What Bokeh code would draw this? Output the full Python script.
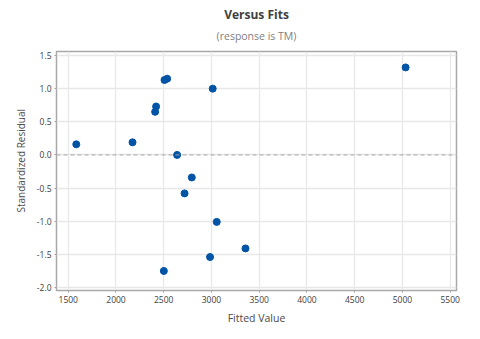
from bokeh.plotting import figure
from bokeh.models import (Span, Title, Range1d, FixedTicker, CustomJSTickFormatter,
                          LinearAxis)
from bokeh.embed import file_html
from bokeh.resources import INLINE

fits = [1584, 2173, 2410, 2420, 2508, 2536, 2640, 2794, 3013, 2718, 3055, 2985, 2501, 3356, 5033]
resid = [0.16, 0.19, 0.65, 0.73, 1.13, 1.15, 0.00, -0.34, 1.00, -0.58, -1.01, -1.54, -1.75, -1.41, 1.32]
x_ticks = [1500, 2000, 2500, 3000, 3500, 4000, 4500, 5000, 5500]
y_ticks = [-2.0, -1.5, -1.0, -0.5, 0.0, 0.5, 1.0, 1.5]

FONT = "Open Sans"
p = figure(frame_width=400, frame_height=239, output_backend="svg", toolbar_location=None,
           x_range=Range1d(1377, 5566), y_range=Range1d(-2.045, 1.56),
           min_border_left=56, min_border_right=22, min_border_top=51, min_border_bottom=48,
           border_fill_color="white")
p.styles = {"outline": "1.5px solid #e2e2e2", "outline-offset": "-2px"}

xaxis = p.below[0]
yaxis = p.left[0]

# subtitle as a label-only axis above the frame
sub_axis = LinearAxis(ticker=FixedTicker(ticks=[]), axis_label="(response is TM)",
                      axis_line_color=None, major_tick_line_color=None,
                      minor_tick_line_color=None, axis_label_standoff=9,
                      major_label_text_font_size="0px",
                      axis_label_text_font=FONT, axis_label_text_font_size="10.5px",
                      axis_label_text_font_style="normal", axis_label_text_color="#808080")
p.add_layout(sub_axis, "above")
p.add_layout(Title(text="Versus Fits", align="center", text_font=FONT,
                   text_font_size="12px", text_font_style="bold", text_color="#404040",
                   standoff=6), "above")

xaxis.ticker = FixedTicker(ticks=x_ticks)
yaxis.ticker = FixedTicker(ticks=y_ticks)
yaxis.formatter = CustomJSTickFormatter(code="return tick.toFixed(1);")

for ax in (xaxis, yaxis):
    ax.axis_line_color = None
    ax.major_tick_line_color = "#a0a0a0"
    ax.major_tick_out = 2
    ax.major_tick_in = 0
    ax.minor_tick_line_color = None
    ax.major_label_text_font = FONT
    ax.major_label_text_font_size = "8.5px"
    ax.major_label_text_color = "#404040"
    ax.major_label_standoff = 3
    ax.axis_label_text_font = FONT
    ax.axis_label_text_font_size = "10.5px"
    ax.axis_label_text_font_style = "normal"
    ax.axis_label_text_color = "#4a4a4a"

xaxis.axis_label = "Fitted Value"
xaxis.axis_label_standoff = 5

p.add_layout(Title(text="Standardized Residual", align="left", offset=78,
                   text_font=FONT, text_font_size="10px", text_font_style="normal",
                   text_color="#4a4a4a", standoff=11), "left")

p.xgrid.ticker = FixedTicker(ticks=x_ticks)
p.ygrid.ticker = FixedTicker(ticks=y_ticks)
p.grid.grid_line_color = "#e8e8e8"
p.grid.grid_line_width = 1.3

p.outline_line_color = "#a8a8a8"
p.outline_line_width = 1.5

p.add_layout(Span(location=0, dimension="width", line_color="#a8a8a8",
                  line_dash="4 3", line_width=1))

p.scatter(fits, resid, size=7, marker="circle", fill_color="#0054a6",
          line_color="#0054a6")

open("out.html", "w").write(file_html(p, INLINE))
